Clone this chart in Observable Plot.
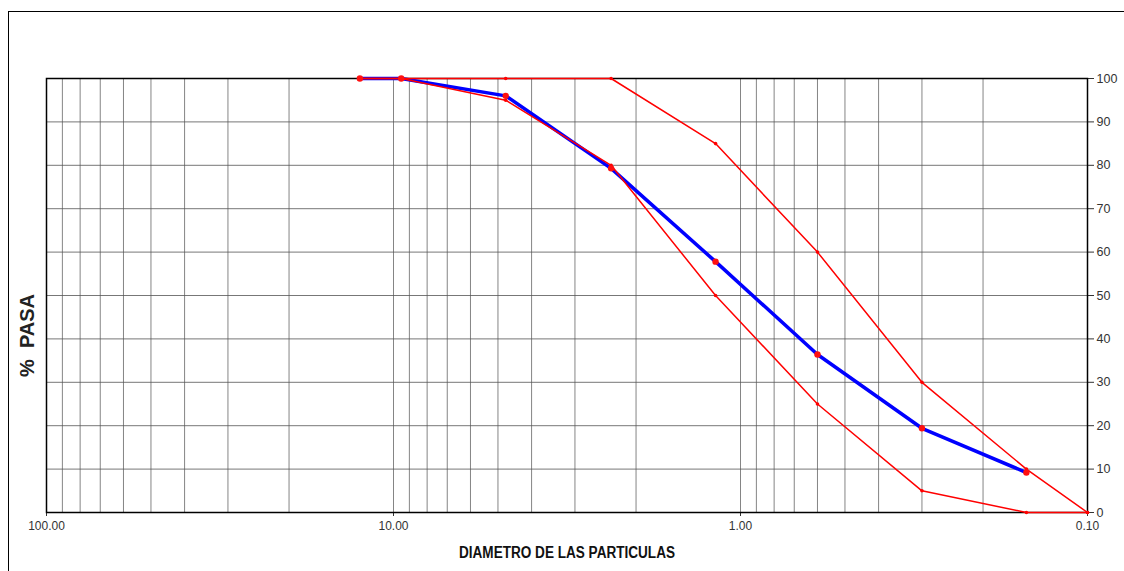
<!DOCTYPE html>
<html><head><meta charset="utf-8">
<script src="https://cdn.jsdelivr.net/npm/d3@7"></script>
<script src="https://cdn.jsdelivr.net/npm/@observablehq/plot@0.6"></script>
<style>
html,body{margin:0;padding:0;background:#fff;}
#wrap{position:relative;width:1124px;height:571px;overflow:hidden;}
#outer{position:absolute;left:8px;top:11px;width:1200px;height:600px;border-left:1.5px solid #000;border-top:1.5px solid #000;}
#chart{position:absolute;left:0;top:0;}
</style></head>
<body><div id="wrap"><div id="outer"></div><div id="chart"></div></div>
<script>
// Sieve sizes (mm) and % passing
const sizes = [12.5, 9.5, 4.75, 2.36, 1.18, 0.6, 0.3, 0.15];
const pasa = [100, 100, 96, 79.3, 57.8, 36.4, 19.4, 9.2];
// Specification limits
const limSizes = [12.5, 9.5, 4.75, 2.36, 1.18, 0.6, 0.3, 0.15, 0.1];
const upper = [100, 100, 100, 100, 85, 60, 30, 10, 0];
const lower = [100, 100, 95, 80, 50, 25, 5, 0, 0];
// Axis ticks
const xTicks = [100, 10, 1, 0.1];
const yTicks = [0, 10, 20, 30, 40, 50, 60, 70, 80, 90, 100];
const xLabel = "DIAMETRO DE LAS PARTICULAS";
const yLabel = "%\u00a0\u00a0PASA";

const gridX = [];
for (const dec of [10, 1, 0.1]) for (let k = 1; k <= 9; k++) gridX.push(+(dec * k).toPrecision(3));
gridX.push(100);

const sample = sizes.map((s, i) => ({s, p: pasa[i]}));
const up = limSizes.map((s, i) => ({s, p: upper[i]}));
const lo = limSizes.map((s, i) => ({s, p: lower[i]}));

const chart = Plot.plot({
  width: 1124, height: 571,
  marginLeft: 46, marginRight: 37, marginTop: 78, marginBottom: 59,
  style: {fontFamily: "Liberation Sans, Arial, sans-serif", fontSize: "12px", color: "#333", background: "transparent"},
  x: {type: "log", domain: [100, 0.1], axis: null},
  y: {domain: [0, 100], axis: null},
  marks: [
    Plot.ruleX(gridX, {stroke: "#666", strokeWidth: 1, strokeOpacity: 0.8}),
    Plot.ruleY(yTicks, {stroke: "#555", strokeWidth: 1, strokeOpacity: 0.8}),
    Plot.axisX({ticks: xTicks, tickFormat: d => d.toFixed(2), tickSize: 4, tickPadding: 5, label: null, fontSize: 12, stroke: "#333"}),
    Plot.axisY({anchor: "right", ticks: yTicks, tickSize: 6, tickPadding: 3, label: null, fontSize: 12.5}),
    Plot.frame({stroke: "#000", strokeWidth: 1.5}),
    Plot.line(sample, {x: "s", y: "p", stroke: "#0000ff", strokeWidth: 3.5}),
    Plot.line(up, {x: "s", y: "p", stroke: "#ff0000", strokeWidth: 1.5}),
    Plot.line(lo, {x: "s", y: "p", stroke: "#ff0000", strokeWidth: 1.5}),
    Plot.dot(up, {x: "s", y: "p", r: 1.8, fill: "#ff0000"}),
    Plot.dot(lo, {x: "s", y: "p", r: 1.8, fill: "#ff0000"}),
    Plot.dot(sample, {x: "s", y: "p", r: 3.2, fill: "#ff1010"}),
    Plot.text([xLabel], {frameAnchor: "bottom", dy: 45, text: d => d, fontWeight: "bold", fontSize: 16, fill: "#111", className: "xlab"}),
    Plot.text([yLabel], {frameAnchor: "left", textAnchor: "middle", dx: -19, dy: 40, rotate: -90, text: d => d, fontWeight: "bold", fontSize: 20, fill: "#222"})
  ]
});
document.getElementById("chart").appendChild(chart);
chart.querySelectorAll(".xlab text").forEach(t => {
  t.setAttribute("textLength", 216);
  t.setAttribute("lengthAdjust", "spacingAndGlyphs");
});
</script>
</body></html>
